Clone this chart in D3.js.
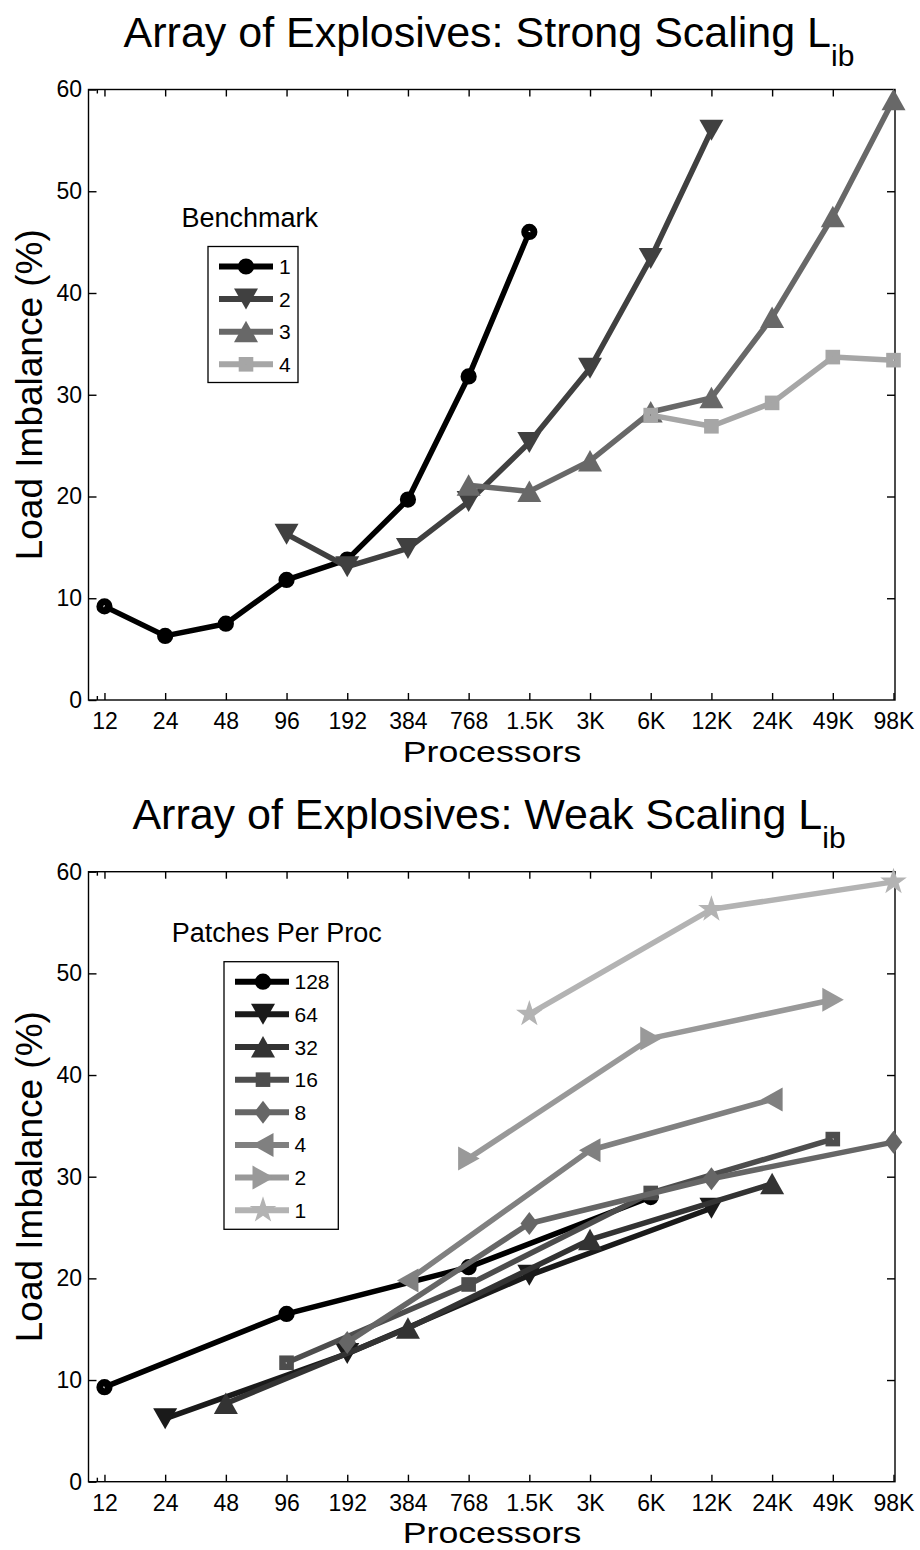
<!DOCTYPE html>
<html>
<head>
<meta charset="utf-8">
<script src="https://cdn.jsdelivr.net/npm/d3@7"></script>
<style>
  body { margin: 0; background: #fff; }
  svg { display: block; }
  text { font-family: "Liberation Sans", Arial, Helvetica, sans-serif; fill: #000; }
</style>
</head>
<body>
<svg id="chart" width="920" height="1550"></svg>
<script>
// Processor counts on the (log2-spaced) x axis and their labels
const procCounts = [12, 24, 48, 96, 192, 384, 768, 1536, 3072, 6144, 12288, 24576, 49152, 98304];
const procLabels = ["12", "24", "48", "96", "192", "384", "768", "1.5K", "3K", "6K", "12K", "24K", "49K", "98K"];
const minorTickValues = [11];
const yTickValues = [0, 10, 20, 30, 40, 50, 60];

// Strong scaling: load imbalance (%) per benchmark, aligned with procCounts
const strongNames = ["1", "2", "3", "4"];
const strongBench1 = [9.2, 6.3, 7.5, 11.8, 13.8, 19.7, 31.8, 46.0, null, null, null, null, null, null];
const strongBench2 = [null, null, null, 16.3, 13.1, 14.9, 19.5, 25.3, 32.6, 43.4, 56.0, null, null, null];
const strongBench3 = [null, null, null, null, null, null, 21.1, 20.5, 23.5, 28.3, 29.7, 37.6, 47.5, 59.0];
const strongBench4 = [null, null, null, null, null, null, null, null, null, 28.0, 26.9, 29.2, 33.7, 33.4];
const strongColors = ["#000000", "#404040", "#686868", "#a6a6a6"];
const strongSymbols = ["circle", "tdown", "tup", "square"];

// Weak scaling: load imbalance (%) per patches-per-processor setting
const weakNames = ["128", "64", "32", "16", "8", "4", "2", "1"];
const weak128 = [9.3, null, null, 16.5, null, null, 21.1, null, null, 28.0, null, null, null, null];
const weak64  = [null, 6.2, null, null, 12.6, null, null, 20.3, null, null, 26.9, null, null, null];
const weak32  = [null, null, 7.7, null, null, 15.1, null, null, 23.8, null, null, 29.3, null, null];
const weak16  = [null, null, null, 11.7, null, null, 19.4, null, null, 28.4, null, null, 33.7, null];
const weak8   = [null, null, null, null, 13.7, null, null, 25.4, null, null, 29.8, null, null, 33.4];
const weak4   = [null, null, null, null, null, 19.8, null, null, 32.6, null, null, 37.6, null, null];
const weak2   = [null, null, null, null, null, null, 31.8, null, null, 43.6, null, null, 47.4, null];
const weak1   = [null, null, null, null, null, null, null, 46.0, null, null, 56.3, null, null, 59.0];
const weakColors = ["#000000", "#1a1a1a", "#333333", "#4d4d4d", "#666666", "#808080", "#999999", "#b3b3b3"];
const weakSymbols = ["circle", "tdown", "tup", "square", "diamond", "tleft", "tright", "star"];

const svg = d3.select("#chart");
const FONT_TICK = 23;

function starPath(R, r) {
  const pts = [];
  for (let k = 0; k < 10; k++) {
    const a = -Math.PI / 2 + k * Math.PI / 5;
    const rad = k % 2 === 0 ? R : r;
    pts.push([rad * Math.cos(a), rad * Math.sin(a)]);
  }
  return "M" + pts.map(p => p[0].toFixed(2) + "," + p[1].toFixed(2)).join("L") + "Z";
}

// Draw one marker glyph centred at (cx, cy)
function drawMarker(g, sym, cx, cy, color) {
  const t = `translate(${cx},${cy})`;
  if (sym === "circle") {
    g.append("circle").attr("transform", t).attr("r", 4.6)
      .attr("fill", "none").attr("stroke", color).attr("stroke-width", 7);
    return;
  }
  if (sym === "square") {
    g.append("rect").attr("transform", t).attr("x", -4).attr("y", -4)
      .attr("width", 8).attr("height", 8)
      .attr("fill", "none").attr("stroke", color).attr("stroke-width", 6.6);
    return;
  }
  let d;
  switch (sym) {
    case "tdown":  d = "M0,10.5L12,-10.5L-12,-10.5Z"; break;
    case "tup":    d = "M0,-11L12,10.5L-12,10.5Z"; break;
    case "tleft":  d = "M-11,0L10.5,-12L10.5,12Z"; break;
    case "tright": d = "M11,0L-10.5,-12L-10.5,12Z"; break;
    case "diamond": d = "M0,-11.5L8.8,0L0,11.5L-8.8,0Z"; break;
    case "star":   d = starPath(14, 5.4); break;
  }
  g.append("path").attr("transform", t).attr("d", d).attr("fill", color);
}

function drawPanel(cfg) {
  const x = d3.scaleLog().domain([10, 100000]).range([88.5, 895]);
  const y = d3.scaleLinear().domain([0, 60]).range([cfg.bottom, cfg.top]);
  const g = svg.append("g");

  // Title with subscript
  const title = g.append("text")
    .attr("x", 489).attr("y", cfg.top - 43)
    .attr("text-anchor", "middle")
    .style("font-size", "43px")
    .text(cfg.title);
  title.append("tspan").attr("dy", 19).style("font-size", "30px").text("ib");

  // Axes (ticks point inward)
  const xb = g.append("g").attr("transform", `translate(0,${cfg.bottom})`)
    .call(d3.axisBottom(x).tickValues(procCounts).tickFormat((d, i) => procLabels[i])
      .tickSizeInner(-7).tickSizeOuter(0).tickPadding(13));
  const xt = g.append("g").attr("transform", `translate(0,${cfg.top})`)
    .call(d3.axisTop(x).tickValues(procCounts).tickFormat("").tickSizeInner(-7).tickSizeOuter(0));
  const xbm = g.append("g").attr("transform", `translate(0,${cfg.bottom})`)
    .call(d3.axisBottom(x).tickValues(minorTickValues).tickFormat("").tickSizeInner(-4).tickSizeOuter(0));
  const xtm = g.append("g").attr("transform", `translate(0,${cfg.top})`)
    .call(d3.axisTop(x).tickValues(minorTickValues).tickFormat("").tickSizeInner(-4).tickSizeOuter(0));
  const yl = g.append("g").attr("transform", `translate(88.5,0)`)
    .call(d3.axisLeft(y).tickValues(yTickValues).tickSizeInner(-8).tickSizeOuter(0).tickPadding(6.5));
  const yr = g.append("g").attr("transform", `translate(895,0)`)
    .call(d3.axisRight(y).tickValues(yTickValues.slice(1, -1)).tickFormat("").tickSizeInner(-8).tickSizeOuter(0));

  [xb, xt, xbm, xtm, yl, yr].forEach(a => {
    a.select(".domain").remove();
    a.selectAll(".tick line").attr("stroke", "#000").attr("stroke-width", 1.4);
    a.selectAll(".tick text").attr("fill", "#000")
      .style("font-size", FONT_TICK + "px")
      .style("font-family", '"Liberation Sans", Arial, sans-serif');
  });

  // Frame
  g.append("rect").attr("x", 88.5).attr("y", cfg.top)
    .attr("width", 895 - 88.5).attr("height", cfg.bottom - cfg.top)
    .attr("fill", "none").attr("stroke", "#000").attr("stroke-width", 1.4);

  // Axis labels
  g.append("text")
    .attr("transform", `translate(492,${cfg.bottom + 61.5}) scale(1.19,1)`)
    .attr("text-anchor", "middle").style("font-size", "30px").text("Processors");
  g.append("text")
    .attr("transform", `translate(42,${(cfg.top + cfg.bottom) / 2}) rotate(-90)`)
    .attr("text-anchor", "middle").style("font-size", "37px").text("Load Imbalance (%)");

  // Series lines (joining each series' measured points) and markers
  const line = d3.line().x(d => x(d[0])).y(d => y(d[1]));
  cfg.series.forEach((vals, s) => {
    const pts = vals.map((v, i) => [procCounts[i], v]).filter(d => d[1] != null);
    const sg = g.append("g");
    sg.append("path").attr("d", line(pts)).attr("fill", "none")
      .attr("stroke", cfg.colors[s]).attr("stroke-width", 5.5)
      .attr("stroke-linejoin", "round").attr("stroke-linecap", "butt");
    pts.forEach(d => drawMarker(sg, cfg.symbols[s], x(d[0]), y(d[1]), cfg.colors[s]));
  });

  // Legend
  const L = cfg.legend;
  g.append("text").attr("x", L.titleX).attr("y", L.titleY)
    .style("font-size", "27px").text(cfg.legendTitle);
  g.append("rect").attr("x", L.x).attr("y", L.y).attr("width", L.w).attr("height", L.h)
    .attr("fill", "#fff").attr("stroke", "#000").attr("stroke-width", 1.3);
  cfg.names.forEach((name, s) => {
    const ry = L.row0 + s * L.step;
    g.append("line").attr("x1", L.line0).attr("x2", L.line1).attr("y1", ry).attr("y2", ry)
      .attr("stroke", cfg.colors[s]).attr("stroke-width", 6);
    drawMarker(g, cfg.symbols[s], L.mark, ry, cfg.colors[s]);
    g.append("text").attr("x", L.labelX).attr("y", ry + 7.5)
      .style("font-size", "21px").text(name);
  });
}

drawPanel({
  top: 89.5, bottom: 700,
  title: "Array of Explosives: Strong Scaling L",
  legendTitle: "Benchmark",
  names: strongNames,
  series: [strongBench1, strongBench2, strongBench3, strongBench4],
  colors: strongColors, symbols: strongSymbols,
  legend: { x: 208, y: 246.5, w: 90, h: 136, row0: 266.5, step: 32.6,
            line0: 219, line1: 273, mark: 246, labelX: 279, titleX: 181.5, titleY: 227.3 }
});

drawPanel({
  top: 871.7, bottom: 1481.7,
  title: "Array of Explosives: Weak Scaling L",
  legendTitle: "Patches Per Proc",
  names: weakNames,
  series: [weak128, weak64, weak32, weak16, weak8, weak4, weak2, weak1],
  colors: weakColors, symbols: weakSymbols,
  legend: { x: 224, y: 961.7, w: 114.3, h: 267.6, row0: 981.7, step: 32.65,
            line0: 235, line1: 289, mark: 263, labelX: 294.5, titleX: 171.7, titleY: 942.3 }
});
</script>
</body>
</html>
